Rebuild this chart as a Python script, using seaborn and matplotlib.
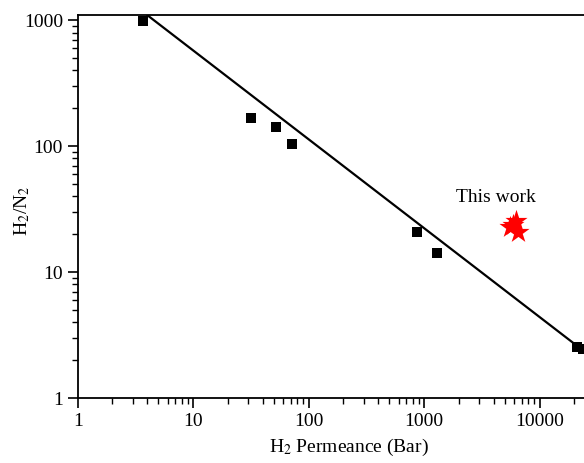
import seaborn as sns
import matplotlib.pyplot as plt
import pandas as pd

# literature membranes (H2 permeance in Bar, H2/N2 selectivity)
perm = [3.65, 31.5, 51.8, 71.3, 861, 1283, 20900, 23500]
selec = [980, 167, 141, 104, 20.8, 14.2, 2.54, 2.45]

# this work
perm_this = [6200, 5500, 6500, 5900]
selec_this = [25.5, 22.8, 21.0, 23.5]

# upper bound line
bound_x = [4.0, 24200]
bound_y = [1100, 2.36]

sns.set_theme(style="ticks")
plt.rcParams["font.family"] = ["Liberation Serif", "DejaVu Serif"]
plt.rcParams["mathtext.fontset"] = "stix"
plt.rcParams["text.color"] = "black"
plt.rcParams["axes.labelcolor"] = "black"

fig = plt.figure(figsize=(5.84, 4.63), dpi=100)
ax = fig.add_axes([0.133, 0.14, 0.867, 0.827])

lit = pd.DataFrame({"perm": perm, "sel": selec})
this = pd.DataFrame({"perm": perm_this, "sel": selec_this})
bound = pd.DataFrame({"x": bound_x, "y": bound_y})

sns.lineplot(data=bound, x="x", y="y", color="black", linewidth=1.6, ax=ax)
sns.scatterplot(data=lit, x="perm", y="sel", marker="s", s=45, color="black",
                edgecolor="black", linewidth=0, ax=ax, clip_on=False, zorder=3)
sns.scatterplot(data=this, x="perm", y="sel", marker="*", s=280, color="red",
                edgecolor="red", linewidth=0, ax=ax, zorder=4)

ax.set_xscale("log")
ax.set_yscale("log")
ax.set_xlim(1, 24200)
ax.set_ylim(1, 1096)

ax.text(4190, 39.5, "This work", fontsize=14, ha="center", va="center")

ax.set_xlabel("H$_2$ Permeance (Bar)", fontsize=14)
ax.set_ylabel("H$_2$/N$_2$", fontsize=14)
ax.xaxis.set_label_coords(0.536, -0.1)
ax.yaxis.set_label_coords(-0.09, 0.49)

ax.spines["right"].set_visible(False)
for s in ["left", "bottom", "top"]:
    ax.spines[s].set_linewidth(1.3)
    ax.spines[s].set_color("black")

ax.tick_params(which="major", direction="out", length=7, width=1.2, labelsize=14,
               top=False, right=False, colors="black")
ax.tick_params(which="minor", direction="out", length=4, width=1.0,
               top=False, right=False, colors="black")
ax.set_xticks([1, 10, 100, 1000, 10000])
ax.set_xticklabels(["1", "10", "100", "1000", "10000"])
ax.set_yticks([1, 10, 100, 1000])
ax.set_yticklabels(["1", "10", "100", "1000"])

fig.savefig("out.png", dpi=100)
